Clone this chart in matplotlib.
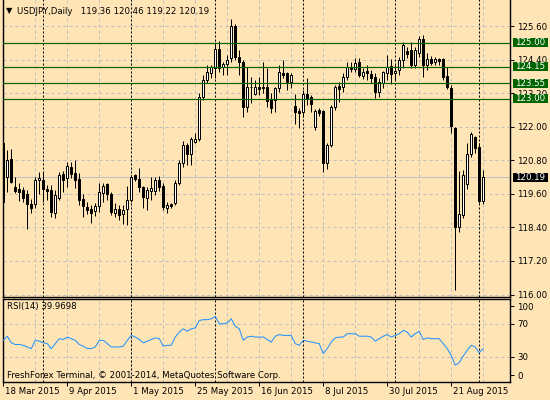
import matplotlib
matplotlib.use("Agg")
import matplotlib.pyplot as plt
from matplotlib.patches import Rectangle
from matplotlib.transforms import blended_transform_factory, ScaledTranslation

BG = "#FFE4B5"
GRID = "#C0C0C0"
GREEN = "#006400"

# daily USDJPY bars, 18 Mar 2015 .. 2 Sep 2015
opens = [121.42, 120.21, 120.83, 119.86, 119.76, 119.74, 119.59, 119.24, 119.23, 120.11,
         120.09, 119.77, 119.74, 118.90, 119.46, 120.31, 120.15, 120.57, 120.33, 120.13,
         119.42, 119.14, 119.06, 118.99, 119.16, 119.64, 119.94, 119.58, 118.90, 119.05,
         118.87, 119.05, 119.38, 120.27, 120.12, 119.83, 119.44, 119.70, 119.70, 120.09,
         119.88, 119.10, 119.22, 119.26, 119.98, 120.69, 121.35, 121.01, 121.46, 121.55,
         123.07, 123.67, 123.91, 124.09, 124.77, 124.12, 124.24, 124.46, 125.60, 124.50,
         124.32, 122.72, 123.41, 123.17, 123.43, 123.41, 123.41, 122.98, 122.95, 123.37,
         123.93, 123.91, 123.61, 122.74, 122.56, 122.54, 123.17, 123.07, 122.00, 122.60,
         122.56, 120.69, 121.35, 122.69, 123.46, 123.41, 123.77, 124.15, 124.05, 124.30,
         123.82, 124.00, 123.88, 123.77, 123.25, 123.57, 123.91, 124.17, 123.91, 124.03,
         124.38, 124.72, 124.74, 124.21, 124.62, 125.12, 124.21, 124.41, 124.32, 124.41,
         124.41, 123.81, 123.37, 121.94, 118.40, 118.84, 119.95, 121.02, 121.62, 121.26,
         119.36]
highs = [121.50, 121.17, 121.19, 120.21, 119.99, 119.86, 119.74, 119.42, 120.21, 120.39,
         120.39, 119.92, 119.92, 119.74, 120.39, 120.42, 120.73, 120.73, 120.81, 120.33,
         119.60, 119.30, 119.20, 119.26, 120.00, 120.00, 119.98, 119.68, 119.26, 119.20,
         119.20, 119.88, 120.27, 120.30, 120.51, 119.88, 119.86, 120.21, 120.21, 120.24,
         120.00, 119.32, 119.27, 120.09, 120.81, 121.50, 121.42, 121.64, 121.77, 123.19,
         123.85, 124.21, 124.21, 125.04, 125.06, 124.32, 124.56, 125.84, 125.67, 124.74,
         124.38, 124.15, 123.79, 123.67, 123.79, 124.30, 124.09, 123.19, 123.43, 124.21,
         124.38, 123.97, 123.91, 123.16, 122.66, 123.30, 123.73, 123.13, 122.62, 122.66,
         122.60, 121.41, 122.78, 123.49, 123.61, 123.91, 124.32, 124.32, 124.45, 124.45,
         124.11, 124.21, 124.03, 123.91, 123.73, 123.99, 124.56, 124.41, 124.21, 124.50,
         125.04, 124.86, 125.04, 124.86, 125.24, 125.28, 124.62, 124.53, 124.50, 124.45,
         124.45, 124.15, 123.49, 122.00, 120.40, 120.45, 121.41, 121.82, 121.67, 121.41,
         120.46]
lows = [119.25, 119.68, 120.00, 119.62, 119.34, 119.32, 118.33, 118.92, 119.08, 119.60,
        119.32, 119.38, 118.78, 118.72, 119.38, 119.68, 119.86, 120.15, 119.80, 119.20,
        118.78, 118.87, 118.55, 118.82, 118.96, 119.32, 119.38, 118.84, 118.78, 118.66,
        118.52, 118.49, 119.30, 120.05, 119.68, 119.10, 119.02, 119.38, 119.56, 119.70,
        119.02, 118.90, 119.10, 119.20, 119.92, 120.57, 120.63, 120.63, 121.42, 121.49,
        122.95, 123.55, 123.74, 123.74, 123.97, 123.85, 123.85, 124.32, 124.38, 123.85,
        122.36, 122.54, 122.84, 123.13, 123.13, 123.19, 122.72, 122.48, 122.54, 123.25,
        123.73, 123.31, 123.37, 122.10, 121.96, 122.36, 122.77, 122.54, 121.88, 122.40,
        120.39, 120.48, 121.29, 122.60, 122.89, 123.25, 123.67, 123.97, 123.97, 123.77,
        123.69, 123.67, 123.57, 123.02, 123.07, 123.37, 123.67, 123.53, 123.67, 123.85,
        124.09, 124.45, 124.09, 124.09, 124.50, 123.79, 124.03, 124.21, 124.21, 124.21,
        123.67, 123.34, 121.76, 116.16, 118.25, 118.72, 119.76, 120.93, 121.05, 119.28,
        119.22]
closes = [119.31, 120.81, 120.03, 119.71, 119.68, 119.46, 119.23, 119.10, 120.09, 120.18,
          119.76, 119.71, 118.96, 119.56, 120.28, 120.09, 120.60, 120.30, 120.09, 119.38,
          119.15, 119.02, 118.90, 119.16, 119.68, 119.88, 119.58, 118.96, 119.05, 118.84,
          119.02, 119.38, 120.20, 120.12, 119.86, 119.48, 119.74, 119.80, 120.10, 119.86,
          119.14, 119.20, 119.16, 119.98, 120.71, 121.35, 121.01, 121.55, 121.55, 123.07,
          123.67, 123.94, 124.15, 124.77, 124.09, 124.24, 124.38, 125.60, 124.50, 124.32,
          122.69, 123.41, 123.43, 123.41, 123.34, 123.38, 122.93, 122.66, 123.37, 123.97,
          123.85, 123.61, 123.85, 122.54, 122.48, 123.17, 123.00, 122.81, 122.56, 122.50,
          120.69, 121.35, 122.72, 123.41, 123.34, 123.77, 124.15, 124.05, 124.27, 123.85,
          123.94, 123.91, 123.75, 123.23, 123.59, 123.94, 124.15, 123.88, 124.00, 124.38,
          124.92, 124.60, 124.21, 124.74, 125.12, 124.21, 124.41, 124.29, 124.41, 124.36,
          123.77, 123.41, 122.02, 118.40, 118.88, 120.27, 121.02, 121.74, 121.23, 119.35,
          120.19]
rsi = [50, 55, 47, 45, 45, 44, 42, 40, 50, 49, 47, 46, 40, 46, 52, 51, 54, 52, 50, 45,
       43, 40, 40, 42, 50, 50, 46, 42, 42, 42, 43, 50, 56, 54, 51, 47, 49, 51, 53, 52,
       43, 44, 44, 54, 60, 64, 61, 64, 65, 74, 75, 75, 76, 79, 70, 70, 71, 76, 67, 64,
       50, 54, 55, 54, 54, 54, 51, 48, 55, 57, 56, 56, 56, 46, 44, 50, 49, 48, 47, 46,
       34, 40, 48, 53, 54, 54, 58, 58, 58, 55, 55, 55, 54, 49, 52, 55, 57, 54, 56, 58,
       62, 60, 54, 58, 61, 51, 53, 52, 52, 52, 46, 40, 32, 20, 23, 31, 38, 44, 42, 35,
       39.97]

date_idx = [0, 16, 32, 48, 64, 80, 96, 112]
date_labels = ["18 Mar 2015", "9 Apr 2015", "1 May 2015", "25 May 2015",
               "16 Jun 2015", "8 Jul 2015", "30 Jul 2015", "21 Aug 2015"]
month_starts = [10, 32, 53, 75, 98, 119]
price_ticks = [125.6, 124.4, 123.2, 122.0, 120.8, 119.6, 118.4, 117.2, 116.0]
levels = [125.00, 124.15, 123.55, 123.00]
last_price = 120.19

PX = 0.72  # one pixel in points at dpi 100


def draw_grid(ax, hlines):
    for i in range(8, 128, 8):
        ax.axvline(i, color=GRID, lw=PX, ls=(0, (3, 3)), zorder=0.5)
    for y in hlines:
        ax.axhline(y, color=GRID, lw=PX, ls=(0, (3, 3)), zorder=0.5)
    for i in month_starts:
        ax.axvline(i, color="black", lw=PX, ls=(0, (2, 2)), zorder=0.6)


def label_box(ax, y, text, color, h=0.32):
    tr = blended_transform_factory(ax.transAxes, ax.transData)
    x0 = 1 + 2.5 / 507.5
    ax.add_patch(Rectangle((x0, y - h / 2), 35 / 507.5, h, transform=tr,
                           facecolor=color, edgecolor="none", clip_on=False, zorder=5))
    ax.text(x0 + 2.5 / 507.5, y, text, transform=tr, color="white", fontsize=6.2,
            va="center", ha="left", zorder=6, clip_on=False)


def main():
    fig = plt.figure(figsize=(5.5, 4), dpi=100, facecolor=BG)
    ax = fig.add_axes([2.5 / 550, 103 / 400, 507.5 / 550, 300 / 400], facecolor=BG)
    ax2 = fig.add_axes([2.5 / 550, 18.3 / 400, 507.5 / 550, 82.7 / 400], facecolor=BG)

    xlim = (-0.2, 126.7)
    idx = list(range(len(closes)))

    # price panel
    ax.set_xlim(*xlim)
    ax.set_ylim(115.911, 126.637)
    draw_grid(ax, price_ticks)
    ax.axhline(last_price, color=GRID, lw=PX, zorder=0.7)
    for lv in levels:
        ax.axhline(lv, color=GREEN, lw=PX * 1.2, zorder=4)

    ax.vlines(idx, lows, highs, color="black", lw=PX, zorder=2)
    bodies_b = [min(o, c) for o, c in zip(opens, closes)]
    heights = [max(abs(c - o), 0.02) for o, c in zip(opens, closes)]
    colors = ["white" if c >= o else "black" for o, c in zip(opens, closes)]
    ax.bar(idx, heights, bottom=bodies_b, width=0.6, color=colors,
           edgecolor="black", linewidth=PX, zorder=3)

    ax.set_xticks([])
    ax.yaxis.tick_right()
    ax.set_yticks(price_ticks)
    ax.set_yticklabels(["%.2f" % p for p in price_ticks])
    ax.tick_params(axis="y", direction="out", length=3, width=PX, pad=2, labelsize=6.2)
    ax.spines["top"].set_visible(False)
    for s in ["left", "right", "bottom"]:
        ax.spines[s].set_linewidth(PX * 1.4)

    for lv in levels:
        label_box(ax, lv, "%.2f" % lv, GREEN)
    label_box(ax, last_price, "%.2f" % last_price, "black")

    # RSI panel
    ax2.set_xlim(*xlim)
    ax2.set_ylim(0, 100)
    draw_grid(ax2, [30, 70])
    ax2.plot(idx, rsi, color="#1E90FF", lw=PX, zorder=3)
    ax2.yaxis.tick_right()
    ax2.set_yticks([8, 30, 70, 91])
    ax2.set_yticklabels(["0", "30", "70", "100"])
    ax2.tick_params(axis="y", direction="out", length=3, width=PX, pad=2, labelsize=6.2)
    ax2.set_xticks(date_idx)
    ax2.set_xticklabels(date_labels, ha="left")
    ax2.tick_params(axis="x", direction="out", length=3, width=PX, pad=1, labelsize=6.2)
    shift = ScaledTranslation(1.5 / 100, 0, fig.dpi_scale_trans)
    for lbl in ax2.get_xticklabels():
        lbl.set_transform(lbl.get_transform() + shift)
    for s in ax2.spines.values():
        s.set_linewidth(PX * 1.4)

    # texts
    fig.text(6 / 550, 1 - 11 / 400, "\u25BC", fontsize=6, va="center", ha="left")
    fig.text(17 / 550, 1 - 11 / 400, "USDJPY,Daily   119.36 120.46 119.22 120.19",
             fontsize=6.2, va="center", ha="left")
    fig.text(7 / 550, 1 - 306.5 / 400, "RSI(14) 39.9698", fontsize=6.2, va="center", ha="left")
    fig.text(7 / 550, 1 - 375.5 / 400,
             "FreshForex Terminal, \u00A9 2001-2014, MetaQuotes Software Corp.",
             fontsize=6.2, va="center", ha="left")

    fig.savefig("out.png", dpi=100, facecolor=BG)


if __name__ == "__main__":
    main()
